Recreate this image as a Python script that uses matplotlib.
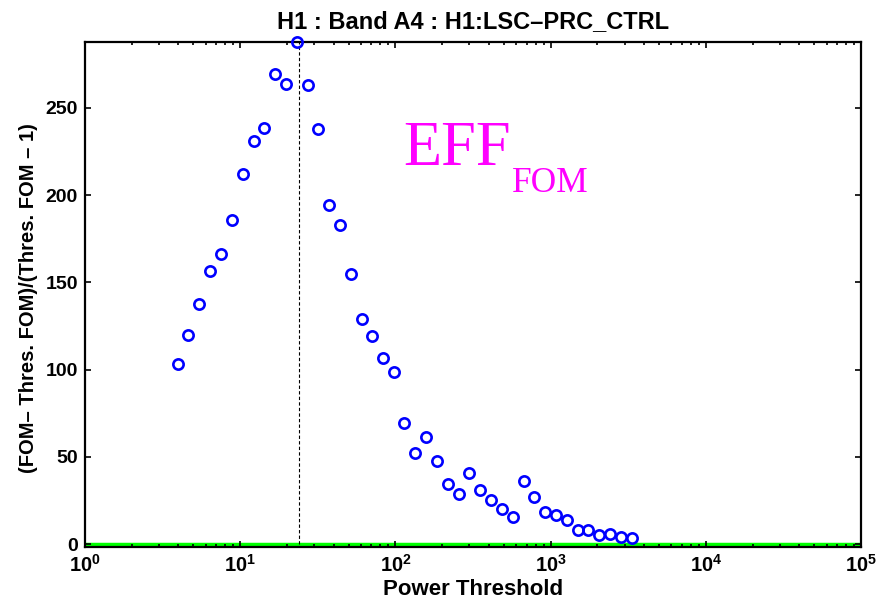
import matplotlib
matplotlib.use("Agg")
from matplotlib import pyplot as plt
from matplotlib.ticker import FixedLocator, FixedFormatter, LogLocator, NullFormatter

# Data
threshold = [3.96, 4.63, 5.45, 6.4, 7.5, 8.8, 10.4, 12.2, 14.3, 16.8, 19.7, 23.1,
             27.2, 31.9, 37.3, 44, 51.5, 60.6, 71, 83.6, 98, 114, 134, 157, 185,
             219, 257, 299, 352, 413, 486, 572, 671, 785, 920, 1079, 1270, 1496,
             1750, 2060, 2415, 2843, 3333]
eff = [102.9, 119.9, 137.6, 156.4, 166.3, 185.5, 211.8, 231.2, 238.4, 269.3, 263.9, 288.0,
       263.1, 237.8, 194.2, 183.0, 154.7, 128.8, 119.3, 106.6, 98.4, 69.1, 51.9, 61.2, 47.4,
       34.2, 28.9, 40.9, 30.8, 25.5, 20.2, 15.2, 36.1, 26.8, 18.6, 16.7, 13.7, 8.0,
       8.2, 5.3, 5.5, 4.2, 3.4]
best_threshold = 24.0
x_decades = [0, 1, 2, 3, 4, 5]
y_ticks = [0, 50, 100, 150, 200, 250]

plt.rcParams['font.family'] = ['Liberation Sans', 'DejaVu Sans']
plt.rcParams['mathtext.fontset'] = 'custom'
plt.rcParams['mathtext.rm'] = 'Liberation Sans:bold'
plt.rcParams['mathtext.bf'] = 'Liberation Sans:bold'

fig = plt.figure(figsize=(8.76, 6.02), dpi=100)
ax = fig.add_axes([0.097, 0.0914, 0.886, 0.8396])

ax.axhline(0, color='#00ff00', lw=2.5, zorder=1)
ax.plot([best_threshold, best_threshold], [0, max(eff)], color='k', lw=0.8,
        dashes=(3, 2), zorder=2)
ax.plot(threshold, eff, 'o', mfc='none', mec='#0000ff', ms=7.4, mew=1.9,
        clip_on=False, zorder=3)

ax.set_xscale('log')
ax.set_xlim(1, 1e5)
ax.set_ylim(-1.7, 288)

ax.xaxis.set_major_locator(FixedLocator([10 ** k for k in x_decades]))
ax.xaxis.set_major_formatter(FixedFormatter([r'$\mathbf{10^{%d}}$' % k for k in x_decades]))
ax.xaxis.set_minor_locator(LogLocator(base=10, subs=range(2, 10), numticks=20))
ax.xaxis.set_minor_formatter(NullFormatter())
ax.set_yticks(y_ticks)

ax.tick_params(which='both', direction='in', top=True, right=True, width=1.2)
ax.tick_params(which='major', length=4.5)
ax.tick_params(which='minor', length=2.5)
ax.tick_params(axis='x', which='major', labelsize=14.5, pad=5)
ax.tick_params(axis='y', labelsize=14, pad=5)
for lab in ax.get_yticklabels():
    lab.set_fontweight('bold')
for sp in ax.spines.values():
    sp.set_linewidth(1.6)

ax.set_title('H1 : Band A4 : H1:LSC\u2013PRC_CTRL', fontsize=17, fontweight='bold', pad=10)
ax.set_ylabel('(FOM\u2013 Thres. FOM)/(Thres. FOM \u2013 1)', fontsize=14.5, fontweight='bold')
ax.yaxis.set_label_coords(-0.0606, 0.4926)
ax.set_xlabel('Power Threshold', fontsize=16, fontweight='bold')
ax.xaxis.set_label_coords(0.5, -0.064)

fig.text(403 / 876, 1 - 165 / 602, 'EFF', color='#ff00ff', fontsize=45,
         family='Liberation Serif', va='baseline', ha='left')
fig.text(512 / 876, 1 - 192 / 602, 'FOM', color='#ff00ff', fontsize=25.5,
         family='Liberation Serif', va='baseline', ha='left')

fig.savefig('out.png', dpi=100)
